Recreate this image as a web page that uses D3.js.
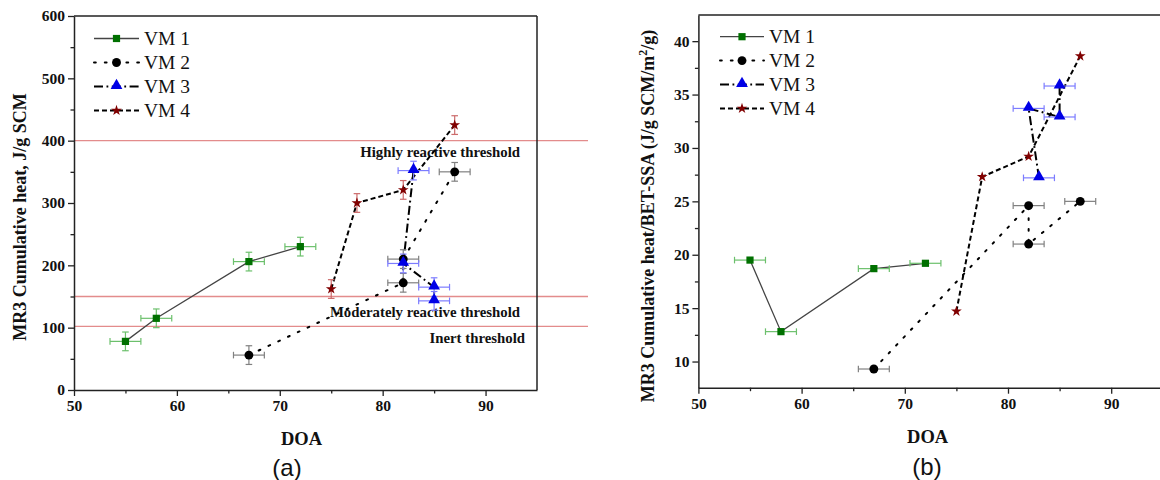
<!DOCTYPE html>
<html>
<head>
<meta charset="utf-8">
<script src="https://cdn.jsdelivr.net/npm/d3@7"></script>
<style>
  html, body { margin: 0; padding: 0; background: #fff; }
  svg { display: block; }
</style>
</head>
<body>
<svg id="chart" width="1160" height="480"></svg>
<script>
// ---------------- DATA ----------------
const seriesNames = ["VM 1", "VM 2", "VM 3", "VM 4"];

// DOA (x) per series, in drawing order of the connecting line
const doa1 = [55, 58, 67, 72];
const doa2 = [67, 82, 82, 87];
const doa3 = [83, 82, 85, 85];
const doa4 = [75, 77.5, 82, 87];

// Panel (a): MR3 cumulative heat, J/g SCM
const heat1 = [78, 115, 206, 230];
const heat2 = [56, 172, 210, 350];
const heat3 = [352, 203, 165, 143];
const heat4 = [162, 300, 321, 425];

// Panel (b): MR3 cumulative heat / BET-SSA
const norm1 = [19.5, 12.8, 18.7, 19.2];
const norm2 = [9.3, 24.6, 21.0, 25.0];
const norm3 = [27.2, 33.7, 32.9, 35.8];
const norm4 = [14.7, 27.3, 29.2, 38.6];

// error bar half-widths
const doaErr = 1.5;
const heatErr = 15;

// thresholds on panel (a)
const thresholdValues = [400, 150, 102];
const thresholdLabels = ["Highly reactive threshold", "Moderately reactive threshold", "Inert threshold"];

// ticks
const xTicksMajor = [50, 60, 70, 80, 90];
const xTicksMinor = [55, 65, 75, 85];
const yTicksA = [0, 100, 200, 300, 400, 500, 600];
const yTicksAMinor = [50, 150, 250, 350, 450, 550];
const yTicksB = [10, 15, 20, 25, 30, 35, 40];
const yTicksBMinor = [12.5, 17.5, 22.5, 27.5, 32.5, 37.5];

// ---------------- STYLE ----------------
const styles = [
  { color: "#007000", err: "#6cc06c", line: "#444", width: 1.3, dash: null, round: false, sym: d3.symbolSquare, size: 52 },
  { color: "#000000", err: "#808080", line: "#000", width: 2, dash: "1.8,9", round: true, sym: d3.symbolCircle, size: 62 },
  { color: "#0000e6", err: "#7c7cff", line: "#000", width: 2, dash: "9,3.5,1.8,3.5", round: false, sym: d3.symbolTriangle, size: 60 },
  { color: "#800000", err: "#cc6b6b", line: "#000", width: 2, dash: "5,3", round: false, sym: d3.symbolStar, size: 36 }
];

const serif = "'Liberation Serif', 'Times New Roman', serif";
const sans = "'Liberation Sans', Arial, sans-serif";

const svg = d3.select("#chart");

function drawPanel(cfg) {
  const g = svg.append("g");
  const x = d3.scaleLinear().domain([50, 95]).range([cfg.left, cfg.right]);
  const y = d3.scaleLinear().domain(cfg.yDomain).range([cfg.bottom, cfg.top]);

  // threshold lines (behind everything)
  if (cfg.thresholds) {
    cfg.thresholds.forEach((t) => {
      g.append("line")
        .attr("x1", cfg.left).attr("x2", cfg.thrEnd)
        .attr("y1", y(t)).attr("y2", y(t))
        .attr("stroke", "#e38c8c").attr("stroke-width", 1.3);
    });
  }

  // frame: top and right
  g.append("line").attr("x1", cfg.left).attr("x2", cfg.right)
    .attr("y1", cfg.top).attr("y2", cfg.top).attr("stroke", "#222").attr("stroke-width", 1.5);
  g.append("line").attr("x1", cfg.right).attr("x2", cfg.right)
    .attr("y1", cfg.top).attr("y2", cfg.bottom).attr("stroke", "#222").attr("stroke-width", 1.5);

  // axes
  g.append("g").attr("transform", `translate(0,${cfg.bottom})`)
    .call(d3.axisBottom(x).tickValues(xTicksMajor).tickSize(6).tickSizeOuter(0).tickPadding(4));
  g.append("g").attr("transform", `translate(0,${cfg.bottom})`)
    .call(d3.axisBottom(x).tickValues(xTicksMinor).tickSize(3.5).tickSizeOuter(0).tickFormat(""))
    .call(a => a.select(".domain").remove());
  g.append("g").attr("transform", `translate(${cfg.left},0)`)
    .call(d3.axisLeft(y).tickValues(cfg.yTicks).tickSize(6).tickSizeOuter(0).tickPadding(3));
  g.append("g").attr("transform", `translate(${cfg.left},0)`)
    .call(d3.axisLeft(y).tickValues(cfg.yTicksMinor).tickSize(3.5).tickSizeOuter(0).tickFormat(""))
    .call(a => a.select(".domain").remove());

  g.selectAll(".domain").attr("stroke", "#222").attr("stroke-width", 1.5);
  g.selectAll(".tick line").attr("stroke", "#222").attr("stroke-width", 1.3);
  g.selectAll(".tick text").attr("font-family", serif).attr("font-weight", "bold")
    .attr("font-size", 15.5).attr("fill", "#111");

  // threshold labels
  if (cfg.thresholds) {
    const offs = [16, 20, 17];
    const ends = [520, 520, 525];
    cfg.thresholds.forEach((t, i) => {
      g.append("text").attr("x", ends[i]).attr("y", y(t) + offs[i])
        .attr("text-anchor", "end").attr("font-family", serif).attr("font-weight", "bold")
        .attr("font-size", 14.8).attr("fill", "#111").text(thresholdLabels[i]);
    });
  }

  const plot = g.append("g");

  // lines
  cfg.series.forEach((s, i) => {
    const st = styles[i];
    const pts = s.x.map((d, j) => [d, s.y[j]]);
    plot.append("path")
      .attr("d", d3.line().x(d => x(d[0])).y(d => y(d[1]))(pts))
      .attr("fill", "none").attr("stroke", st.line).attr("stroke-width", st.width)
      .attr("stroke-linecap", st.round ? "round" : "butt")
      .attr("stroke-dasharray", st.dash);
  });

  // error bars
  cfg.series.forEach((s, i) => {
    const st = styles[i];
    const cap = 3.3;
    s.x.forEach((xv, j) => {
      const cx = x(xv), cy = y(s.y[j]);
      const eg = plot.append("g").attr("stroke", st.err).attr("stroke-width", 1.2).attr("fill", "none");
      if (s.xErr) {
        const x0 = x(xv - doaErr), x1 = x(xv + doaErr);
        eg.append("line").attr("x1", x0).attr("x2", x1).attr("y1", cy).attr("y2", cy);
        eg.append("line").attr("x1", x0).attr("x2", x0).attr("y1", cy - cap).attr("y2", cy + cap);
        eg.append("line").attr("x1", x1).attr("x2", x1).attr("y1", cy - cap).attr("y2", cy + cap);
      }
      if (s.yErr) {
        const y0 = y(s.y[j] - heatErr), y1 = y(s.y[j] + heatErr);
        eg.append("line").attr("x1", cx).attr("x2", cx).attr("y1", y0).attr("y2", y1);
        eg.append("line").attr("x1", cx - cap).attr("x2", cx + cap).attr("y1", y0).attr("y2", y0);
        eg.append("line").attr("x1", cx - cap).attr("x2", cx + cap).attr("y1", y1).attr("y2", y1);
      }
    });
  });

  // markers
  cfg.series.forEach((s, i) => {
    const st = styles[i];
    s.x.forEach((xv, j) => {
      const dy = st.sym === d3.symbolTriangle ? -1 : 0;
      plot.append("path")
        .attr("d", d3.symbol().type(st.sym).size(st.size)())
        .attr("transform", `translate(${x(xv)},${y(s.y[j]) + dy})`)
        .attr("fill", st.color);
    });
  });

  // legend
  seriesNames.forEach((name, i) => {
    const st = styles[i];
    const ly = cfg.legend.y0 + i * cfg.legend.dy;
    g.append("line").attr("x1", cfg.legend.x0).attr("x2", cfg.legend.x1)
      .attr("y1", ly).attr("y2", ly)
      .attr("stroke", st.line).attr("stroke-width", st.width)
      .attr("stroke-linecap", st.round ? "round" : "butt")
      .attr("stroke-dasharray", st.dash);
    g.append("path")
      .attr("d", d3.symbol().type(st.sym).size(st.size)())
      .attr("transform", `translate(${(cfg.legend.x0 + cfg.legend.x1) / 2},${ly + (st.sym === d3.symbolTriangle ? -1 : 0)})`)
      .attr("fill", st.color);
    g.append("text").attr("x", cfg.legend.tx).attr("y", ly + 6.5)
      .attr("font-family", serif).attr("font-size", 19.5).attr("fill", "#111").text(name);
  });

  // axis titles
  g.append("text").attr("x", (cfg.left + cfg.right) / 2 + cfg.xTitleDx).attr("y", cfg.bottom + 55)
    .attr("text-anchor", "middle").attr("font-family", serif).attr("font-weight", "bold")
    .attr("font-size", 18.5).attr("fill", "#111").text("DOA");

  const yt = g.append("text")
    .attr("transform", `translate(${cfg.yTitleX},${cfg.yTitleY}) rotate(-90)`)
    .attr("text-anchor", "middle").attr("font-family", serif).attr("font-weight", "bold")
    .attr("font-size", 18).attr("fill", "#111");
  cfg.yTitle(yt);

  g.append("text").attr("x", cfg.panelX).attr("y", cfg.panelY)
    .attr("text-anchor", "middle").attr("font-family", sans)
    .attr("font-size", 24).attr("fill", "#111").text(cfg.panel);
}

drawPanel({
  id: "a", left: 74, right: 537, top: 16, bottom: 390, yDomain: [0, 600],
  yTicks: yTicksA, yTicksMinor: yTicksAMinor,
  thresholds: thresholdValues, thrEnd: 588,
  series: [
    { x: doa1, y: heat1, xErr: true, yErr: true },
    { x: doa2, y: heat2, xErr: true, yErr: true },
    { x: doa3, y: heat3, xErr: true, yErr: true },
    { x: doa4, y: heat4, xErr: false, yErr: true }
  ],
  legend: { x0: 94, x1: 139, tx: 144, y0: 38.5, dy: 24 },
  xTitleDx: -4, yTitleX: 26, yTitleY: 217,
  yTitle: t => t.text("MR3 Cumulative heat, J/g SCM"),
  panel: "(a)", panelX: 287, panelY: 476
});

drawPanel({
  id: "b", left: 698.4, right: 1162.8, top: 15, bottom: 387.7, yDomain: [7.55, 42.45],
  yTicks: yTicksB, yTicksMinor: yTicksBMinor,
  thresholds: null,
  series: [
    { x: doa1, y: norm1, xErr: true, yErr: false },
    { x: doa2, y: norm2, xErr: true, yErr: false },
    { x: doa3, y: norm3, xErr: true, yErr: false },
    { x: doa4, y: norm4, xErr: false, yErr: false }
  ],
  legend: { x0: 720, x1: 764, tx: 769, y0: 36.7, dy: 23.9 },
  xTitleDx: -3, yTitleX: 654, yTitleY: 216,
  yTitle: t => {
    t.append("tspan").text("MR3 Cumulative heat/BET-SSA (J/g SCM/m");
    t.append("tspan").attr("font-size", 12).attr("dy", -7).text("2");
    t.append("tspan").attr("dy", 7).text("/g)");
  },
  panel: "(b)", panelX: 927, panelY: 475
});
</script>
</body>
</html>
